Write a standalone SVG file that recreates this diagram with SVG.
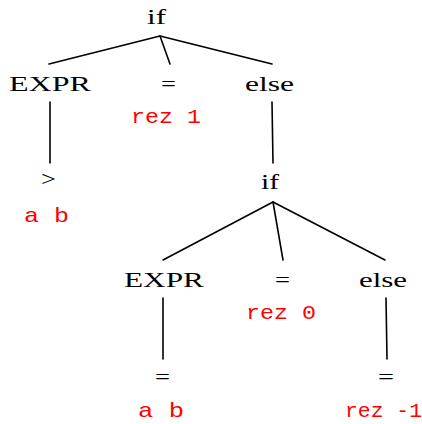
<svg xmlns="http://www.w3.org/2000/svg" width="422" height="424" viewBox="0 0 422 424">
<style>
.k{font-family:"Liberation Serif","Times New Roman",serif;font-size:22px;fill:#000}
.r{font-family:"Liberation Mono","Courier New",monospace;font-size:21px;fill:#ff0000}
.c line{stroke:#000;stroke-width:1.6;stroke-linecap:round}
</style>
<rect width="422" height="424" fill="#fff"/>
<g class="c" id="connectors">
<line x1="160" y1="36" x2="49" y2="64"/>
<line x1="160" y1="36" x2="170" y2="64"/>
<line x1="160" y1="36" x2="272" y2="64"/>
<line x1="50" y1="102" x2="50" y2="163"/>
<line x1="272" y1="102" x2="273" y2="163"/>
<line x1="273" y1="202" x2="163" y2="260"/>
<line x1="273" y1="202" x2="283" y2="260"/>
<line x1="273" y1="202" x2="385" y2="260"/>
<line x1="163" y1="298" x2="163" y2="359"/>
<line x1="386" y1="298" x2="387" y2="359"/>
</g>
<g id="if1"><text class="k" x="147" y="24" textLength="19" lengthAdjust="spacingAndGlyphs">if</text></g>
<g id="expr1"><text class="k" x="9" y="91" textLength="82" lengthAdjust="spacingAndGlyphs">EXPR</text></g>
<g id="eq1"><text class="k" x="161" y="91" textLength="15" lengthAdjust="spacingAndGlyphs">=</text><text class="r" x="131" y="123" textLength="70" lengthAdjust="spacingAndGlyphs">rez 1</text></g>
<g id="else1"><text class="k" x="245" y="91" textLength="49" lengthAdjust="spacingAndGlyphs">else</text></g>
<g id="gt"><text class="k" x="41" y="186" textLength="15" lengthAdjust="spacingAndGlyphs">&gt;</text><text class="r" x="24" y="222" textLength="45" lengthAdjust="spacingAndGlyphs">a b</text></g>
<g id="if2"><text class="k" x="261" y="189" textLength="18" lengthAdjust="spacingAndGlyphs">if</text></g>
<g id="expr2"><text class="k" x="124" y="287" textLength="80" lengthAdjust="spacingAndGlyphs">EXPR</text></g>
<g id="eq2"><text class="k" x="275" y="287" textLength="15" lengthAdjust="spacingAndGlyphs">=</text><text class="r" x="246" y="319" textLength="70" lengthAdjust="spacingAndGlyphs">rez 0</text></g>
<g id="else2"><text class="k" x="359" y="287" textLength="48" lengthAdjust="spacingAndGlyphs">else</text></g>
<g id="eq3"><text class="k" x="155" y="384" textLength="15" lengthAdjust="spacingAndGlyphs">=</text><text class="r" x="138" y="417" textLength="46" lengthAdjust="spacingAndGlyphs">a b</text></g>
<g id="eq4"><text class="k" x="378" y="384" textLength="16" lengthAdjust="spacingAndGlyphs">=</text><text class="r" x="345" y="417" textLength="77" lengthAdjust="spacingAndGlyphs">rez -1</text></g>
</svg>
